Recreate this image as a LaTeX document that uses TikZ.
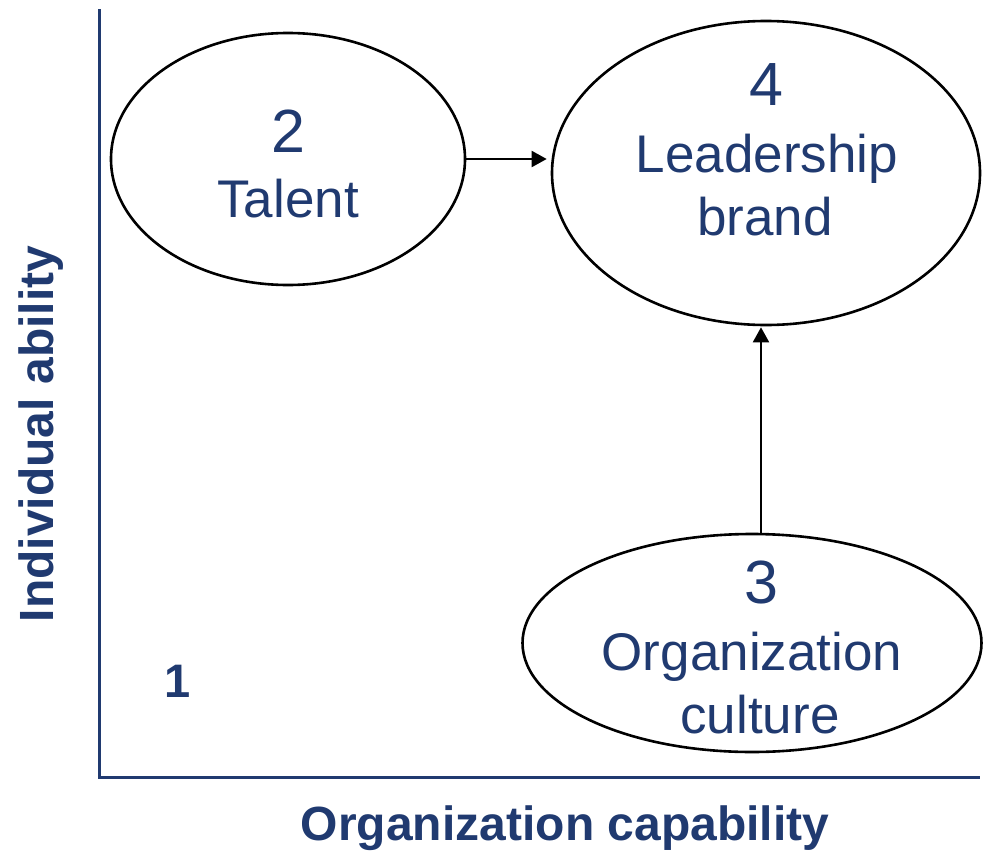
\documentclass[tikz,border=0pt]{standalone}
\usepackage{fontspec}
\setmainfont{Liberation Sans}
\usetikzlibrary{shapes.geometric,arrows.meta}
\definecolor{navy}{RGB}{32,58,112}

\begin{document}
\begin{tikzpicture}[x=1pt,y=-1pt,
  bubble/.style={draw, ellipse, line width=2.6pt, inner sep=0pt},
  numtxt/.style={anchor=base, text=navy, font=\fontsize{61}{64}\selectfont},
  wordtxt/.style={anchor=base, text=navy, font=\fontsize{53}{64}\selectfont},
  axtxt/.style={anchor=base, text=navy, font=\fontsize{48}{56}\selectfont\bfseries},
  arr/.style={line width=2pt, -{Triangle[length=15pt,width=16pt]}}]
\useasboundingbox (0,0) rectangle (983,854);
% axes
\draw[navy, line width=3pt] (99.5,9) -- (99.5,777.5) -- (980,777.5);
\node[axtxt, rotate=90] (yaxis) at (53,434) {Individual ability};
\node[axtxt] (xaxis) at (565,840) {Organization capability};
\node[axtxt, font=\fontsize{47}{56}\selectfont\bfseries] (one) at (178,697) {1};
% the three ellipses
\node[bubble, minimum width=354pt, minimum height=252pt] (talent) at (288,159) {};
\node[bubble, minimum width=428pt, minimum height=304pt] (lead) at (766,173) {};
\node[bubble, minimum width=459pt, minimum height=218pt] (culture) at (752,643) {};
\node[numtxt] (two) at (288,152) {2};
\node[wordtxt] (talentlbl) at (288,217) {Talent};
\node[numtxt] (four) at (766,105) {4};
\node[wordtxt] (leadlbl) at (767,172) {Leadership};
\node[wordtxt] (brandlbl) at (765,235) {brand};
\node[numtxt] (three) at (761,603) {3};
\node[wordtxt] (orglbl) at (752,670) {Organization};
\node[wordtxt] (cultlbl) at (760,733) {culture};
% arrows
\draw[arr, shorten >=4pt] (talent.east) -- (talent.east -| lead.west);
\draw[arr, shorten >=1pt] ([xshift=9pt]culture.north) -- ([xshift=-5pt]lead.south);
\end{tikzpicture}
\end{document}
